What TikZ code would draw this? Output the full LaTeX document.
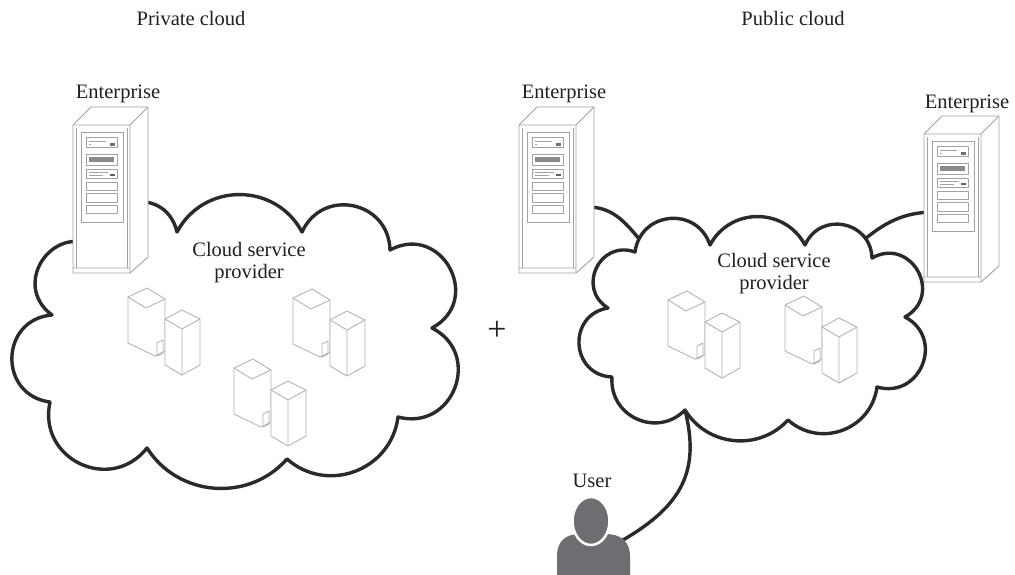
\documentclass[tikz,border=0pt]{standalone}
\usepackage{fontspec}
\setmainfont{Liberation Serif}
\definecolor{inkc}{HTML}{2A2A2C}
\definecolor{towc}{HTML}{A2A2A2}
\definecolor{bldc}{HTML}{B4B4B4}
\definecolor{txtc}{HTML}{231F20}
\definecolor{userc}{HTML}{6D6E71}
\begin{document}
\begin{tikzpicture}[x=1pt,y=-1pt,
  outline/.style={draw=inkc, line width=3.4pt, line join=round, fill=white},
  wire/.style={draw=inkc, line width=3.4pt, line cap=round},
  gline/.style={draw=towc, line width=0.9pt, line join=round},
  bline/.style={draw=bldc, line width=0.9pt, line join=round},
  txt/.style={font=\fontsize{20.5}{22}\selectfont, text=txtc, inner sep=0pt, anchor=base, align=center},
  b25/.style={bend left=53, looseness=1.06},
  b30/.style={bend left=62, looseness=1.16},
  b35/.style={bend left=70, looseness=1.27},
  b40/.style={bend left=77, looseness=1.40},
  b45/.style={bend left=84, looseness=1.54},
  b50/.style={bend left=90, looseness=1.70},
  tower/.pic={
    \path[gline, fill=white] (0,0) -- (18,-18) -- (75,-18) -- (75,132) -- (57,148) -- (0,148) -- cycle;
    \draw[gline] (0,0) -- (57,0) -- (75,-18) (57,0) -- (57,148) (0,143) -- (57,143);
    \draw[gline, line width=0.6pt] (3,3) -- (3,143) (54,3) -- (54,143);
    \draw[gline] (8,7) rectangle (50,97);
    \foreach \ya/\yb in {12/22,29/40,44/53,57/65,68/77,80/88}
      \draw[gline] (13,\ya) rectangle (44,\yb);
    \draw[gline, line width=0.6pt] (16,16) -- (33,16) (16,19) -- (18,19);
    \fill[towc!70!black] (37,18) rectangle (42,20.5);
    \fill[towc!85!black] (16,32) rectangle (41,37);
    \draw[gline, line width=0.6pt] (16,47) -- (35,47) (16,50) -- (30,50);
    \fill[towc!60!black] (37,48.5) rectangle (42,51);
  },
  offices/.pic={
    % rear block
    \path[bline, fill=white] (0,0) -- (19,-9) -- (37,2) -- (37,54) -- (27,59) -- (0,46) -- cycle;
    \draw[bline] (0,0) -- (18,11) -- (37,2);
    % door
    \draw[bline] (29,46) -- (35,43) -- (35,56) -- (29,59) -- cycle;
    % front block
    \path[bline, fill=white] (37,22) -- (54,13) -- (72,22) -- (72,68) -- (54,78) -- (37,68) -- cycle;
    \draw[bline] (37,22) -- (54,32) -- (72,22) (54,32) -- (54,78);
  }
]
\useasboundingbox (0,0) rectangle (1015,574);

% connection points
\coordinate (mport) at (588,207);
\coordinate (pcnw)  at (645,246);
\coordinate (rport) at (935,212);
\coordinate (pcne)  at (860,243);
\coordinate (pcs)   at (685,410);
\coordinate (uport) at (623,540);

% connectors of the public cloud
\draw[wire] (mport) to[out=0, in=130] (pcnw);
\draw[wire] (rport) to[out=180, in=40] (pcne);
\draw[wire] (pcs) .. controls +(15,60) and +(60,-35) .. (uport);

% private cloud
\path[outline] (100,250) to[b50] (177,232) to[b30] (302,232) to[b40] (390,250)
  to[b50] (432,328) to[b45] (398,417) to[b30] (287,459) to[b25] (147,448)
  to[b40] (50,402) to[b45] (52,315) to[b50] (100,250) -- cycle;

% public cloud
\path[outline] (635,252) to[b40] (710,245) to[b30] (805,245) to[b40] (872,258)
  to[b50] (905,317) to[b45] (877,387) to[b30] (788,420) to[b25] (685,410)
  to[b35] (612,377) to[b45] (608,308) to[b45] (635,252) -- cycle;

% enterprise servers
\pic at (73,125) {tower};
\pic at (519,125) {tower};
\pic at (924,134) {tower};

% provider data centres
\pic at (128,297) {offices};
\pic at (293,298) {offices};
\pic at (234,368) {offices};
\pic at (668,300) {offices};
\pic at (785,305) {offices};

% user
\fill[userc] (557,576) -- (557,556) .. controls (557,541) and (566,534) .. (580,534)
  -- (606,534) .. controls (621,534) and (630,542) .. (630,556) -- (630,576) -- cycle;
\filldraw[fill=userc, draw=white, line width=2.5pt] (591,521) ellipse [x radius=18.5pt, y radius=24pt];

% labels (base anchor of a two-line node sits on its last line)
\node[txt] (privtitle) at (191,25) {Private cloud};
\node[txt] (pubtitle)  at (793,25) {Public cloud};
\node[txt] (entL) at (118,98) {Enterprise};
\node[txt] (entM) at (564,98) {Enterprise};
\node[txt] (entR) at (967,108) {Enterprise};
\node[txt] (cspL) at (249,278) {Cloud service\\provider};
\node[txt] (cspR) at (774,289) {Cloud service\\provider};
\node[txt] (userlbl) at (592,487) {User};
\node[font=\fontsize{34}{34}\selectfont, text=txtc, inner sep=0pt] (plus) at (497,331) {+};
\end{tikzpicture}
\end{document}
